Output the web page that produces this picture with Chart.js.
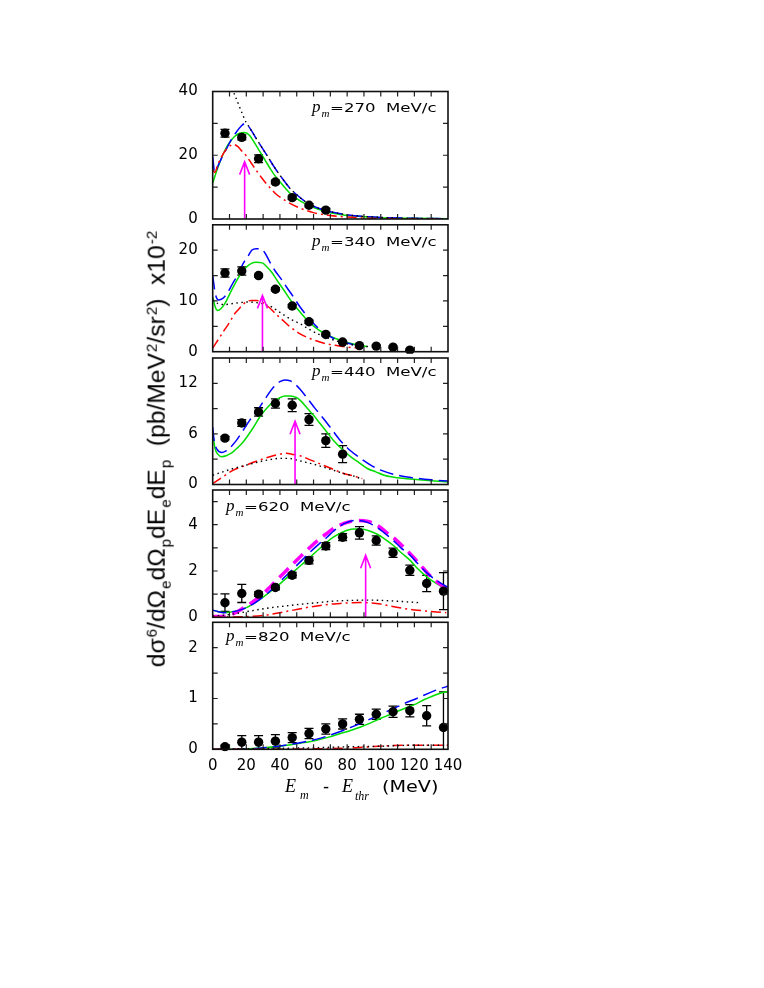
<!DOCTYPE html>
<html><head><meta charset="utf-8">
<script src="https://cdn.jsdelivr.net/npm/chart.js@4.4.1/dist/chart.umd.min.js"></script>
<style>
html,body{margin:0;padding:0;background:#fff;}
body{width:764px;height:988px;position:relative;overflow:hidden;}
canvas{position:absolute;}
.t0{position:absolute;line-height:0;white-space:pre;color:#000;}
.pi{font-family:'Liberation Serif';font-style:italic;font-size:17px;}
.pm{font-family:'Liberation Serif';font-style:italic;font-size:11px;position:relative;top:5px;margin-left:1px;margin-right:1px;}
.pt{font-family:'DejaVu Sans';font-size:12px;display:inline-block;transform:scaleX(1.38);transform-origin:0 0;line-height:0;}
#yt{position:absolute;left:157px;top:449px;transform:translate(-50%,-50%) rotate(-90deg);white-space:nowrap;font-family:'Liberation Sans';font-size:24.6px;line-height:1;color:#000;}
.sb{font-size:0.62em;position:relative;top:0.42em;margin-left:1px;}
.sp{font-size:0.62em;position:relative;top:-0.55em;margin-left:1px;}
</style></head><body>
<canvas id="c1"></canvas><canvas id="c2"></canvas><canvas id="c3"></canvas><canvas id="c4"></canvas><canvas id="c5"></canvas>

<div id="yt">dσ<span class="sp">6</span>/dΩ<span class="sb">e</span>dΩ<span class="sb">p</span>dE<span class="sb">e</span>dE<span class="sb">p</span>&nbsp;&nbsp;(pb/MeV<span class="sp">2</span>/sr<span class="sp">2</span>)&nbsp;&nbsp;x10<span class="sp">-2</span></div>

<div class="t0" style="left:285px;top:786px;"><span style="font-family:'Liberation Serif';font-style:italic;font-size:18px;">E</span></div>
<div class="t0" style="left:300px;top:794px;"><span style="font-family:'Liberation Serif';font-style:italic;font-size:12px;">m</span></div>
<div class="t0" style="left:323px;top:786px;"><span style="font-family:'DejaVu Sans';font-size:17px;">-</span></div>
<div class="t0" style="left:342px;top:786px;"><span style="font-family:'Liberation Serif';font-style:italic;font-size:18px;">E</span></div>
<div class="t0" style="left:355px;top:795px;"><span style="font-family:'Liberation Serif';font-style:italic;font-size:12px;">thr</span></div>
<div class="t0" style="left:382px;top:786.5px;"><span style="font-family:'DejaVu Sans';font-size:16px;display:inline-block;transform:scaleX(1.2);transform-origin:0 0;line-height:0;">(MeV)</span></div>

<div id="labels"></div>

<script>
// ---------------- DATA ----------------
const xMinorTicks = [0,10,20,30,40,50,60,70,80,90,100,110,120,130,140];
const xTickLabels = [0,20,40,60,80,100,120,140];

const panelMomenta = ['270','340','440','620','820'];
const yMax = [40, 25, 15, 5.5, 2.5];
const yMinorTicks1 = [0,10,20,30,40];          const yTickLabels1 = [0,20,40];
const yMinorTicks2 = [0,5,10,15,20,25];        const yTickLabels2 = [0,10,20];
const yMinorTicks3 = [0,3,6,9,12,15];          const yTickLabels3 = [0,6,12];
const yMinorTicks4 = [0,1,2,3,4,5];            const yTickLabels4 = [0,2,4];
const yMinorTicks5 = [0,0.5,1,1.5,2,2.5];      const yTickLabels5 = [0,1,2];

const dataX = [7.3,17.3,27.3,37.3,47.3,57.3,67.3,77.3,87.3,97.3,107.3,117.3,127.3,137.3];
const dataY1 = [26.9,25.6,18.9,11.6,6.7,4.3,2.8];
const dataE1 = [1.2,0.8,1.2,0.6,0.5,0.5,0.5];
const dataY2 = [15.5,15.9,15.0,12.3,9.0,5.9,3.4,1.9,1.2,1.1,0.9,0.3];
const dataE2 = [0.8,0.8,0.3,0.3,0.3,0.3,0.3,0.2,0.2,0.2,0.2,0.2];
const dataY3 = [5.5,7.3,8.6,9.6,9.4,7.7,5.2,3.6];
const dataE3 = [0.2,0.4,0.5,0.55,0.75,0.7,0.8,1.0];
const dataY4 = [0.63,1.03,1.0,1.29,1.82,2.46,3.08,3.46,3.65,3.32,2.79,2.03,1.46,1.13];
const dataE4 = [0.38,0.39,0.1,0.1,0.12,0.15,0.15,0.15,0.27,0.2,0.2,0.22,0.35,0.8];
const dataY5 = [0.05,0.14,0.14,0.16,0.23,0.31,0.40,0.50,0.59,0.69,0.74,0.76,0.66,0.43];
const dataE5 = [0.03,0.13,0.13,0.13,0.1,0.1,0.1,0.1,0.1,0.1,0.11,0.12,0.2,0.7];

const arrowX   = [19, 29.6, 49, 91];
const arrowTip = [18, 11.1, 7.5, 2.68];

// curves [x, y]
const green1 = [[0,11.3],[2.5,15.3],[5,18.8],[7.5,21.8],[10,24],[13,25.9],[16,26.9],[19,27.1],[22,26.2],[25,23.8],[28,21.2],[31,18.6],[34,16],[37,13.6],[40,11.7],[43,9.8],[46,8.1],[50,6.4],[56,4.5],[62,3.2],[68,2.2],[75,1.5],[82,1.0],[90,0.7],[100,0.4],[115,0.2],[140,0.1]];
const blue1  = [[0,19.6],[1.2,14.5],[3,16.5],[5,18.8],[8,21.8],[11,24.8],[14,27.2],[17,29.2],[19.5,30],[22,28.6],[25,26],[28,23.5],[32,20.2],[37,16],[42,12.3],[46,9.6],[50,7.6],[55,5.5],[60,4.0],[65,3.0],[70,2.3],[80,1.3],[90,0.8],[100,0.5],[120,0.2],[140,0.1]];
const dot1   = [[10,44],[12.3,40],[15,36.5],[18,32.5],[20,30.2],[22,28.6],[25,26],[28,23.5],[32,20.2],[37,16],[42,12.3],[46,9.6],[50,7.6],[55,5.5],[60,4.0],[65,3.0],[70,2.3],[80,1.3],[90,0.8],[100,0.5],[120,0.2],[140,0.1]];
const red1   = [[0,15.5],[1.3,14.6],[3,17],[5.3,19.6],[8,21.8],[10.5,23],[12.5,23.4],[15,22.7],[17,21.5],[20,19.8],[23,17.5],[26,15.2],[29,13],[32,11],[35,9.3],[38,7.7],[42,6.2],[46,4.9],[52,3.4],[60,2.0],[70,1.1],[80,0.6],[90,0.3],[100,0.15],[120,0.05],[140,0.02]];

const green2 = [[0,10.8],[1.5,8.8],[3,8.1],[5,8.5],[7.3,9.5],[10,11.3],[13.3,13.4],[16,15],[19.2,16.4],[23,17.4],[26,17.6],[29.5,17.5],[32,16.8],[35,15.7],[38,14.2],[42,12.3],[45,10.8],[48,9.4],[52,7.8],[58,5.6],[63,4.3],[68,3.3],[74,2.5],[78,2.0],[85,1.4],[92,1.0]];
const blue2  = [[0,15],[1.5,11.5],[3.5,10.2],[6,10.5],[8,11.2],[10,12.3],[12.5,13.8],[15.3,15.3],[18,17.3],[21,18.8],[23.2,20],[26,20.3],[28.5,20.3],[31,19.5],[34.1,17.6],[37,16],[41,14.2],[44,12.7],[48,10.8],[52,8.8],[57,6.7],[62,4.9],[67,3.6],[72,2.6],[80,1.7],[88,1.1]];
const dot2   = [[0,10.2],[3,9.5],[7.3,9.3],[12,9.5],[17,9.7],[21,9.8],[25,9.7],[28,9.6],[31,9.3],[34,9.0],[38,8.2],[42,7.3],[47,6.3],[52,5.5],[57,4.5],[62,3.6],[67,2.9],[72,2.3],[77,1.8],[82,1.4],[88,1.1],[94,1.0]];
const red2   = [[0,0.7],[4.3,2.9],[7,4.3],[10.3,5.9],[12.5,7.2],[15.3,8.3],[18,9.3],[20.5,9.9],[23,10.1],[26,10.1],[28.5,9.9],[31,9.4],[34,8.6],[37,7.6],[41,6.4],[46,4.9],[52,3.5],[57,2.7],[62,2.1],[67,1.6],[72,1.3],[80,0.9],[88,0.7]];

const green3 = [[0,6.2],[0.8,5],[1.5,4.2],[3,3.6],[5.4,3.3],[8,3.4],[10,3.6],[12.3,3.9],[15,4.4],[18,5],[20.2,5.6],[24,6.7],[28,8],[32,9],[36,9.8],[40,10.3],[43,10.5],[46,10.5],[50,10.3],[53,9.8],[56,9.1],[60,8.2],[64,7.2],[68,6.2],[72,5.2],[77,4.2],[82,3.3],[87,2.6],[92,1.9],[97,1.5],[102,1.1],[110,0.8],[121,0.6],[130,0.45],[140,0.3]];
const blue3  = [[0,6.8],[1,5],[2.5,4.2],[5.4,3.8],[8,4],[10,4.3],[14,5.2],[18,6.4],[22,7.6],[27,8.9],[31,10.1],[36,11.5],[40,12.2],[43,12.4],[46,12.3],[49,11.9],[52,11.3],[56,10.3],[61,9],[66,7.8],[71,6.5],[76,5.2],[82,4],[88,3.1],[94,2.3],[100,1.7],[110,1.1],[119,0.8],[130,0.55],[140,0.4]];
const dot3   = [[0,1.1],[6,1.5],[12.3,1.9],[20,2.3],[28,2.7],[34,2.95],[40,3.1],[45,3.1],[50,2.9],[56,2.6],[62,2.3],[70,1.8],[78,1.3],[84,1.0],[88,0.7]];
const red3   = [[0,0.1],[6,0.9],[12.3,1.7],[20,2.3],[28,2.9],[34,3.3],[40,3.6],[44,3.7],[47,3.6],[52,3.4],[56,3.1],[62,2.6],[68,2.1],[73,1.7],[78,1.3],[84,1.0],[89,0.7]];

const green4 = [[0,0.31],[3,0.25],[6.3,0.21],[10,0.22],[16,0.31],[21,0.45],[26,0.67],[32,0.98],[38,1.32],[43,1.64],[48,1.96],[53,2.28],[58,2.6],[63,2.93],[68,3.25],[72,3.47],[76,3.63],[80,3.76],[84,3.82],[88,3.82],[92,3.76],[97.6,3.6],[102,3.4],[107.5,3.1],[112,2.8],[117.5,2.46],[122,2.1],[127.4,1.75],[134,1.42],[140,1.17]];
const blue4  = [[0,0.31],[3,0.25],[6.3,0.2],[10,0.22],[16,0.31],[21,0.45],[26,0.67],[32,1.0],[38,1.39],[43,1.75],[48,2.1],[53,2.46],[58,2.82],[63,3.15],[68,3.46],[72,3.73],[76,3.96],[80,4.1],[84,4.18],[88,4.17],[92,4.1],[97.6,3.89],[102,3.65],[107.5,3.32],[112,3.0],[117.5,2.68],[122,2.32],[127.4,1.92],[134,1.55],[140,1.29]];
const mag4   = [[0,0.03],[4,0.03],[8.3,0.06],[13,0.18],[18,0.39],[23,0.62],[28,0.89],[33,1.23],[38,1.6],[43,1.96],[48,2.32],[53,2.68],[58,3.03],[63,3.35],[68,3.63],[72,3.84],[76,3.99],[80,4.1],[85.7,4.18],[91.7,4.15],[96,4.05],[99.6,3.89],[104,3.63],[109.5,3.32],[114,3.0],[119.4,2.6],[124,2.22],[129,1.82],[134,1.5],[140,1.2]];
const dot4   = [[0,0.05],[10,0.12],[20,0.24],[32,0.39],[42,0.48],[52,0.56],[62,0.63],[72,0.7],[82,0.73],[90,0.74],[97,0.74],[103.6,0.72],[113,0.68],[123,0.63]];
const red4   = [[0,0.0],[10,0.01],[20,0.03],[32,0.1],[40,0.2],[48,0.31],[55,0.41],[62,0.49],[69,0.56],[76,0.6],[82,0.63],[88,0.64],[94,0.62],[100,0.57],[106,0.48],[113,0.39],[120,0.32],[127,0.27],[133,0.23],[139,0.2]];

const green5 = [[0,0],[10,0.002],[22,0.01],[32,0.035],[42,0.07],[52,0.12],[62,0.18],[69,0.24],[76,0.31],[82,0.37],[88,0.44],[94,0.52],[100,0.61],[106,0.69],[111.5,0.77],[116,0.83],[121.4,0.9],[126,0.98],[131,1.05],[135,1.1],[140,1.14]];
const blue5  = [[0,0],[10,0.002],[22,0.01],[32,0.035],[42,0.075],[52,0.13],[62,0.2],[69,0.27],[76,0.35],[82,0.43],[88,0.51],[94,0.6],[100,0.69],[106,0.78],[111.5,0.86],[116,0.93],[121.4,1.0],[126,1.07],[131,1.14],[135,1.19],[140,1.24]];
const dot5   = [[0,0],[20,0.01],[40,0.02],[60,0.03],[80,0.05],[100,0.06],[120,0.08],[140,0.08]];
const red5   = [[0,0],[30,0.0],[60,0.01],[78,0.02],[90,0.04],[103.6,0.07],[120,0.08],[140,0.08]];

// ---------------- LAYOUT ----------------
const CL = 130, CW = 340;
const X0 = 212.7, X1 = 448;
const YW = X0 - CL, PR = CL + CW - X1;
const panelTops = [91.5, 224.8, 358.0, 490.0, 622.3];
const panelBots = [219.0, 351.7, 484.5, 617.3, 749.3];
const XAXH = 40.7;
const labelPos = [[312,113],[312,246.7],[312,376.7],[226,511.7],[226,641.7]];

const STY = {
  green:{borderColor:'#00dd00',borderWidth:1.5},
  blue:{borderColor:'#0000ff',borderWidth:1.5,borderDash:[14,6]},
  red:{borderColor:'#ff0000',borderWidth:1.5,borderDash:[10,4,2,4]},
  dot:{borderColor:'#000000',borderWidth:1.4,borderDash:[1.5,3.5]},
  mag:{borderColor:'#ff00ff',borderWidth:3.5,borderDash:[13,7]}
};
function curve(pts, st){
  return Object.assign({type:'line',data:pts.map(p=>({x:p[0],y:p[1]})),pointRadius:0,fill:false,
    cubicInterpolationMode:'monotone',borderCapStyle:'butt'}, st);
}

const panels = [
  {ys:dataY1,es:dataE1,minor:yMinorTicks1,labs:yTickLabels1,curves:[curve(dot1,STY.dot),curve(red1,STY.red),curve(blue1,STY.blue),curve(green1,STY.green)]},
  {ys:dataY2,es:dataE2,minor:yMinorTicks2,labs:yTickLabels2,curves:[curve(dot2,STY.dot),curve(red2,STY.red),curve(blue2,STY.blue),curve(green2,STY.green)]},
  {ys:dataY3,es:dataE3,minor:yMinorTicks3,labs:yTickLabels3,curves:[curve(dot3,STY.dot),curve(red3,STY.red),curve(blue3,STY.blue),curve(green3,STY.green)]},
  {ys:dataY4,es:dataE4,minor:yMinorTicks4,labs:yTickLabels4,curves:[curve(dot4,STY.dot),curve(red4,STY.red),curve(blue4,STY.blue),curve(mag4,STY.mag),curve(green4,STY.green)]},
  {ys:dataY5,es:dataE5,minor:yMinorTicks5,labs:yTickLabels5,curves:[curve(dot5,STY.dot),curve(red5,STY.red),curve(blue5,STY.blue),curve(green5,STY.green)]}
];

function makePlugin(i){
  const P = panels[i];
  return {
    id:'frame'+i,
    beforeDatasetsDraw(chart){
      const ctx = chart.ctx, xs = chart.scales.x, ys = chart.scales.y, a = chart.chartArea;
      ctx.save();
      ctx.strokeStyle = '#000'; ctx.lineWidth = 1.3;
      P.ys.forEach((y,k)=>{
        const px = xs.getPixelForValue(dataX[k]);
        let p1 = ys.getPixelForValue(y + P.es[k]);
        let p2 = ys.getPixelForValue(y - P.es[k]);
        p1 = Math.max(p1, a.top); p2 = Math.min(p2, a.bottom);
        ctx.beginPath(); ctx.moveTo(px,p1); ctx.lineTo(px,p2);
        ctx.moveTo(px-4.5,p1); ctx.lineTo(px+4.5,p1);
        if (p2 < a.bottom) { ctx.moveTo(px-4.5,p2); ctx.lineTo(px+4.5,p2); }
        ctx.stroke();
      });
      ctx.restore();
    },
    afterDatasetsDraw(chart){
      if (i >= arrowX.length) return;
      const ctx = chart.ctx, xs = chart.scales.x, ys = chart.scales.y, a = chart.chartArea;
      const px = xs.getPixelForValue(arrowX[i]), pt = ys.getPixelForValue(arrowTip[i]);
      ctx.save();
      ctx.strokeStyle = '#ff00ff'; ctx.lineWidth = 1.6;
      ctx.beginPath();
      ctx.moveTo(px, a.bottom); ctx.lineTo(px, pt);
      ctx.moveTo(px-5, pt+13); ctx.lineTo(px, pt); ctx.lineTo(px+5, pt+13);
      ctx.stroke();
      ctx.restore();
    },
    afterDraw(chart){
      const ctx = chart.ctx, xs = chart.scales.x, ys = chart.scales.y, a = chart.chartArea;
      ctx.save();
      ctx.strokeStyle = '#222'; ctx.lineWidth = 1.2;
      ctx.beginPath();
      xMinorTicks.forEach(v=>{
        if (v <= xs.min || v >= xs.max) return;
        const px = xs.getPixelForValue(v);
        ctx.moveTo(px, a.bottom); ctx.lineTo(px, a.bottom-5);
        ctx.moveTo(px, a.top); ctx.lineTo(px, a.top+5);
      });
      P.minor.forEach(v=>{
        if (v <= ys.min || v >= ys.max) return;
        const py = ys.getPixelForValue(v);
        ctx.moveTo(a.left, py); ctx.lineTo(a.left+5, py);
        ctx.moveTo(a.right, py); ctx.lineTo(a.right-5, py);
      });
      ctx.stroke();
      ctx.lineWidth = 1.6; ctx.strokeStyle = '#111';
      ctx.strokeRect(a.left, a.top, a.right-a.left, a.bottom-a.top);
      ctx.restore();
    }
  };
}

panels.forEach((P,i)=>{
  const last = (i === panels.length-1);
  const cTop = Math.floor(panelTops[i]) - 12;
  const cBot = last ? Math.ceil(panelBots[i] + XAXH) : Math.ceil(panelBots[i]) + 12;
  const cv = document.getElementById('c'+(i+1));
  cv.width = CW; cv.height = cBot - cTop;
  cv.style.left = CL+'px'; cv.style.top = cTop+'px';
  cv.style.width = CW+'px'; cv.style.height = (cBot-cTop)+'px';
  const padTop = panelTops[i] - cTop;
  const padBot = last ? (cBot - panelBots[i] - XAXH) : (cBot - panelBots[i]);
  const pointsDs = {type:'line',showLine:false,data:P.ys.map((y,k)=>({x:dataX[k],y:y})),
    pointRadius:4.7,pointBackgroundColor:'#000',pointBorderWidth:0,pointHoverRadius:4.7,clip:2};
  new Chart(cv, {
    type:'line',
    data:{datasets:[pointsDs].concat(P.curves)},
    options:{
      responsive:false, animation:false, events:[], devicePixelRatio:1,
      plugins:{legend:{display:false},tooltip:{enabled:false}},
      layout:{padding:{left:0,right:PR,top:padTop,bottom:padBot}},
      scales:{
        x:{type:'linear',min:0,max:140,display:last,
          afterFit:(s)=>{s.height = last ? XAXH : 0; s.paddingLeft=0; s.paddingRight=0; s.paddingTop=0; s.paddingBottom=0;},
          afterBuildTicks:(s)=>{s.ticks = xMinorTicks.map(v=>({value:v}));},
          grid:{display:false,drawTicks:false},border:{display:false},
          ticks:{autoSkip:false,maxRotation:0,padding:8,color:'#000',font:{family:'DejaVu Sans',size:15},
            callback:(v)=> xTickLabels.includes(v) ? String(v) : ''}},
        y:{type:'linear',min:0,max:yMax[i],
          afterFit:(s)=>{s.width = YW; s.paddingTop=0; s.paddingBottom=0; s.paddingLeft=0; s.paddingRight=0;},
          afterBuildTicks:(s)=>{s.ticks = P.minor.map(v=>({value:v}));},
          grid:{display:false,drawTicks:false},border:{display:false},
          ticks:{autoSkip:false,padding:15,color:'#000',font:{family:'DejaVu Sans',size:15},
            callback:(v)=> P.labs.includes(v) ? String(v) : ''}}
      }
    },
    plugins:[makePlugin(i)]
  });
});

// panel labels
const lab = document.getElementById('labels');
panelMomenta.forEach((m,i)=>{
  const [lx, base] = labelPos[i];
  const d = document.createElement('div');
  d.className = 't0';
  d.style.left = lx+'px';
  d.style.top = (base - 6)+'px';
  d.innerHTML = '<span class="pi">p</span><span class="pm">m</span><span class="pt">=' + m + '  MeV/c</span>';
  lab.appendChild(d);
});
</script>
</body></html>
